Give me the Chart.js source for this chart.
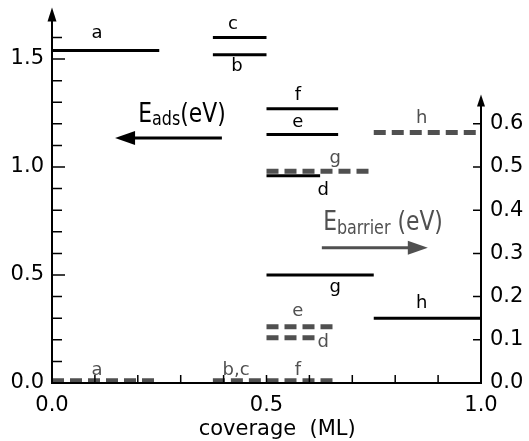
<!DOCTYPE html>
<html>
<head>
<meta charset="utf-8">
<script src="https://cdn.jsdelivr.net/npm/chart.js@4/dist/chart.umd.min.js"></script>
<style>
  html, body { margin: 0; padding: 0; background: #fff; }
  canvas { display: block; }
</style>
</head>
<body>
<canvas id="chart" width="529" height="441"></canvas>
<script>
// E_ads (left axis, eV) - solid black segments
const adsNames  = ['a', 'b', 'c', 'd', 'e', 'f', 'g', 'h'];
const adsFrom   = [0, 0.375, 0.375, 0.5, 0.5, 0.5, 0.5, 0.75];
const adsTo     = [0.25, 0.5, 0.5, 0.625, 0.667, 0.667, 0.75, 1.0];
const adsValues = [1.54, 1.52, 1.60, 0.96, 1.15, 1.27, 0.50, 0.30];

// E_barrier (right axis, eV) - dashed grey segments
const barNames  = ['a', 'b,c', 'd', 'e', 'f', 'g', 'h'];
const barFrom   = [0, 0.375, 0.5, 0.5, 0.5, 0.5, 0.75];
const barTo     = [0.25, 0.5, 0.625, 0.667, 0.667, 0.75, 1.0];
const barValues = [0.005, 0.005, 0.105, 0.13, 0.005, 0.49, 0.58];

// tick labels
const xTickValues = [0, 0.5, 1.0];
const leftTickValues = [0, 0.5, 1.0, 1.5];
const rightTickValues = [0, 0.1, 0.2, 0.3, 0.4, 0.5, 0.6];

// where the letters sit: [x in coverage, baseline offset px]
const adsLabelAt = [[0.105, -12], [0.431, 16], [0.422, -8], [0.632, 19], [0.573, -8], [0.573, -9], [0.66, 17], [0.862, -10]];
const barLabelAt = [[0.105, -6], [0.429, -6], [0.632, 9], [0.573, -11], [0.573, -6], [0.66, -8], [0.862, -9]];

const FONT = '"DejaVu Sans", sans-serif';
const GREY = '#505050';

const datasets = [];
adsNames.forEach((n, i) => {
  datasets.push({
    label: 'E_ads ' + n,
    data: [{x: adsFrom[i], y: adsValues[i]}, {x: adsTo[i], y: adsValues[i]}],
    yAxisID: 'y',
    showLine: true,
    borderColor: '#000',
    borderWidth: 3,
    pointRadius: 0,
    clip: false
  });
});
barNames.forEach((n, i) => {
  datasets.push({
    label: 'E_barrier ' + n,
    data: [{x: barFrom[i], y: barValues[i]}, {x: barTo[i], y: barValues[i]}],
    yAxisID: 'y2',
    showLine: true,
    borderColor: GREY,
    borderWidth: 5,
    borderDash: [12, 6],
    pointRadius: 0,
    clip: false
  });
});

function arrow(ctx, x1, y1, x2, y2, color, width, headLen, headHalf) {
  const ang = Math.atan2(y2 - y1, x2 - x1);
  const bx = x2 - headLen * Math.cos(ang), by = y2 - headLen * Math.sin(ang);
  ctx.save();
  ctx.strokeStyle = color;
  ctx.fillStyle = color;
  ctx.lineWidth = width;
  ctx.beginPath();
  ctx.moveTo(x1, y1);
  ctx.lineTo(bx + Math.cos(ang) * 2, by + Math.sin(ang) * 2);
  ctx.stroke();
  ctx.beginPath();
  ctx.moveTo(x2, y2);
  ctx.lineTo(bx - headHalf * Math.sin(ang), by + headHalf * Math.cos(ang));
  ctx.lineTo(bx + headHalf * Math.sin(ang), by - headHalf * Math.cos(ang));
  ctx.closePath();
  ctx.fill();
  ctx.restore();
}

// text with a subscript, squeezed a little sideways like the original lettering
function subText(ctx, x, y, parts, color) {
  ctx.save();
  ctx.translate(x, y);
  ctx.scale(0.84, 1);
  ctx.fillStyle = color;
  ctx.textAlign = 'left';
  ctx.textBaseline = 'alphabetic';
  let cx = 0;
  parts.forEach(p => {
    ctx.font = p.size + 'px ' + FONT;
    ctx.fillText(p.t, cx, p.dy);
    cx += ctx.measureText(p.t).width;
  });
  ctx.restore();
}

const decor = {
  id: 'decor',
  afterDatasetsDraw(chart) {
    const {ctx, scales: {x, y, y2}} = chart;
    const x0 = x.getPixelForValue(0), x1 = x.getPixelForValue(1);
    const yb = y.getPixelForValue(0);

    ctx.save();
    ctx.strokeStyle = '#000';
    ctx.lineWidth = 2;
    ctx.beginPath();
    ctx.moveTo(x0, yb);
    ctx.lineTo(x1, yb);
    ctx.stroke();
    // ticks pointing inwards
    ctx.lineWidth = 1.5;
    ctx.beginPath();
    for (let i = 0; i <= 10; i++) {
      const px = x.getPixelForValue(i / 10);
      ctx.moveTo(px, yb);
      ctx.lineTo(px, yb - 8);
    }
    for (let i = 0; i <= 16; i++) {
      const py = y.getPixelForValue(i / 10);
      ctx.moveTo(x0, py);
      ctx.lineTo(x0 + (i % 5 === 0 ? 13 : 10), py);
    }
    for (let i = 0; i <= 6; i++) {
      const py = y2.getPixelForValue(i / 10);
      ctx.moveTo(x1, py);
      ctx.lineTo(x1 - 8, py);
    }
    ctx.stroke();
    ctx.restore();

    // axis lines with arrow heads
    arrow(ctx, x0, yb + 1, x0, y.getPixelForValue(1.738), '#000', 2, 14, 4.5);
    arrow(ctx, x1, yb + 1, x1, y2.getPixelForValue(0.668), '#000', 2, 12, 4);

    // segment letters
    ctx.save();
    ctx.font = '18px ' + FONT;
    ctx.textAlign = 'center';
    ctx.textBaseline = 'alphabetic';
    ctx.fillStyle = '#000';
    adsNames.forEach((n, i) => {
      ctx.fillText(n, x.getPixelForValue(adsLabelAt[i][0]), y.getPixelForValue(adsValues[i]) + adsLabelAt[i][1]);
    });
    ctx.fillStyle = GREY;
    barNames.forEach((n, i) => {
      ctx.fillText(n, x.getPixelForValue(barLabelAt[i][0]), y2.getPixelForValue(barValues[i]) + barLabelAt[i][1]);
    });
    ctx.restore();

    // axis captions with arrows
    subText(ctx, x.getPixelForValue(0.201), y.getPixelForValue(1.208),
      [{t: 'E', size: 26, dy: 0}, {t: 'ads', size: 19, dy: 3}, {t: '(eV)', size: 26, dy: 0}], '#000');
    arrow(ctx, x.getPixelForValue(0.396), y.getPixelForValue(1.134),
      x.getPixelForValue(0.147), y.getPixelForValue(1.134), '#000', 3, 20, 7);

    subText(ctx, x.getPixelForValue(0.632), y2.getPixelForValue(0.355),
      [{t: 'E', size: 26, dy: 0}, {t: 'barrier', size: 19, dy: 4}, {t: ' (eV)', size: 26, dy: 0}], GREY);
    arrow(ctx, x.getPixelForValue(0.629), y2.getPixelForValue(0.313),
      x.getPixelForValue(0.876), y2.getPixelForValue(0.313), GREY, 3, 20, 7);

    // x axis title
    ctx.save();
    ctx.font = '21px ' + FONT;
    ctx.fillStyle = '#000';
    ctx.textAlign = 'center';
    ctx.textBaseline = 'alphabetic';
    ctx.fillText('coverage  (ML)', x.getPixelForValue(0.525), 435);
    ctx.restore();
  }
};

// keep the plot box fixed: no extra room for half tick labels
function noEdgePadding(s) {
  s.paddingTop = 0; s.paddingBottom = 0;
  s.paddingLeft = 0; s.paddingRight = 0;
}

new Chart(document.getElementById('chart'), {
  type: 'scatter',
  data: {datasets: datasets},
  options: {
    responsive: false,
    animation: false,
    devicePixelRatio: 1,
    layout: {padding: {top: 10, left: 0, right: 0, bottom: 0}},
    plugins: {legend: {display: false}, tooltip: {enabled: false}},
    scales: {
      x: {
        type: 'linear', position: 'bottom', min: 0, max: 1,
        afterFit: s => { s.height = 58; noEdgePadding(s); },
        afterBuildTicks: s => { s.ticks = xTickValues.map(v => ({value: v})); },
        grid: {display: false, drawTicks: false},
        border: {display: false},
        ticks: {
          padding: 10, color: '#000', maxRotation: 0,
          font: {family: FONT, size: 21},
          callback: v => Number(v).toFixed(1)
        }
      },
      y: {
        type: 'linear', position: 'left', min: 0, max: 1.727,
        afterFit: s => { s.width = 52; noEdgePadding(s); },
        afterBuildTicks: s => { s.ticks = leftTickValues.map(v => ({value: v})); },
        grid: {display: false, drawTicks: false},
        border: {display: false},
        ticks: {
          padding: 8, color: '#000',
          font: {family: FONT, size: 21, lineHeight: 1},
          callback: v => Number(v).toFixed(1)
        }
      },
      y2: {
        type: 'linear', position: 'right', min: 0, max: 0.8635,
        afterFit: s => { s.width = 48; noEdgePadding(s); },
        afterBuildTicks: s => { s.ticks = rightTickValues.map(v => ({value: v})); },
        grid: {display: false, drawTicks: false},
        border: {display: false},
        ticks: {
          padding: 9, color: '#000',
          font: {family: FONT, size: 21, lineHeight: 1},
          callback: v => Number(v).toFixed(1)
        }
      }
    }
  },
  plugins: [decor]
});
</script>
</body>
</html>
